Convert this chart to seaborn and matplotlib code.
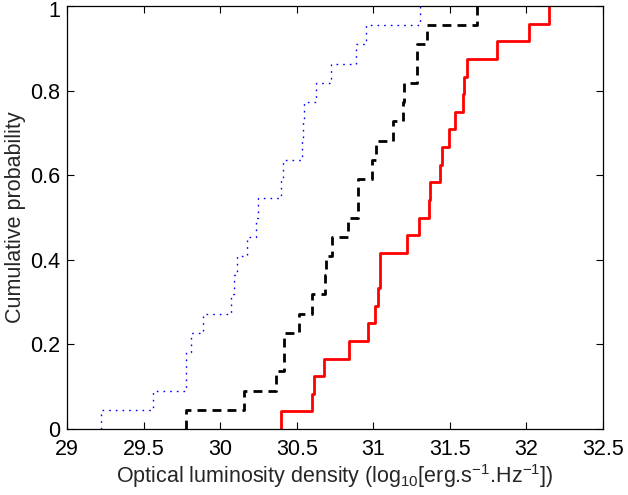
import numpy as np
import pandas as pd
import matplotlib
matplotlib.use("Agg")
import matplotlib.pyplot as plt
import matplotlib.transforms as mtransforms
import seaborn as sns

# Sample values (log10 optical luminosity density)
blue_values = [29.22, 29.564, 29.775, 29.78, 29.81, 29.886, 30.071, 30.093, 30.11,
               30.177, 30.232, 30.249, 30.40, 30.41, 30.537, 30.54, 30.545, 30.625,
               30.724, 30.89, 30.95, 31.305]
black_values = [29.78, 30.158, 30.363, 30.419, 30.42, 30.515, 30.598, 30.685, 30.69,
                30.728, 30.837, 30.90, 30.902, 30.994, 31.016, 31.127, 31.197, 31.198,
                31.284, 31.286, 31.349, 31.68]
red_values = [30.40, 30.60, 30.61, 30.675, 30.84, 30.963, 31.013, 31.033, 31.042,
              31.045, 31.218, 31.30, 31.366, 31.368, 31.436, 31.45, 31.497, 31.534,
              31.585, 31.59, 31.614, 31.806, 32.017, 32.15]

x_ticks = [29, 29.5, 30, 30.5, 31, 31.5, 32, 32.5]
x_tick_labels = ["29", "29.5", "30", "30.5", "31", "31.5", "32", "32.5"]
y_ticks = [0, 0.2, 0.4, 0.6, 0.8, 1]
y_tick_labels = ["0", "0.2", "0.4", "0.6", "0.8", "1"]

sns.set_theme(style="white")
plt.rcParams["font.family"] = ["Liberation Sans", "DejaVu Sans"]
plt.rcParams["mathtext.fontset"] = "custom"
plt.rcParams["mathtext.rm"] = "Liberation Sans"
plt.rcParams["mathtext.it"] = "Liberation Sans:italic"
plt.rcParams["mathtext.bf"] = "Liberation Sans:bold"

fig = plt.figure(figsize=(6.28, 4.95), dpi=100)
ax = fig.add_axes([67 / 628, 1 - 429 / 495, (603 - 67) / 628, (429 - 6) / 495])

styles = [
    (blue_values, dict(color=(0, 0, 1), linestyle=(0, (1.2, 3.6)), linewidth=1.0)),
    (black_values, dict(color="black", linestyle=(0, (3.2, 2.2)), linewidth=2.0)),
    (red_values, dict(color=(1, 0, 0), linestyle="-", linewidth=2.0)),
]
for vals, kw in styles:
    sns.ecdfplot(x=np.array(vals), ax=ax, **kw)

# Start each step curve at its first sample (instead of -inf) so it rises from 0
for line in ax.lines:
    xd, yd = line.get_data()
    xd = np.array(xd, dtype=float)
    yd = np.array(yd, dtype=float)
    xd[0] = xd[1]
    line.set_data(xd, yd)

ax.set_xlim(29, 32.5)
ax.set_ylim(0, 1)
ax.set_xticks(x_ticks)
ax.set_xticklabels(x_tick_labels)
ax.set_yticks(y_ticks)
ax.set_yticklabels(y_tick_labels)

ax.tick_params(axis="both", which="both", direction="in", length=5, width=0.8,
               colors="black", labelsize=15.5, top=True, right=True,
               bottom=True, left=True)
ax.tick_params(axis="x", pad=7)
ax.tick_params(axis="y", pad=5)
for sp in ax.spines.values():
    sp.set_visible(True)
    sp.set_color("black")
    sp.set_linewidth(0.9)
    sp.set_zorder(3)

# nudge the top "1" label slightly down so it stays inside the canvas
top_lbl = ax.get_yticklabels()[-1]
top_lbl.set_transform(top_lbl.get_transform() +
                      mtransforms.ScaledTranslation(0, -2 / 72, fig.dpi_scale_trans))

ax.set_xlabel(r"Optical luminosity density (log$_{\mathregular{10}}$[erg.s$^{\mathregular{-1}}$.Hz$^{\mathregular{-1}}$])",
              fontsize=15.5, labelpad=2)
ax.set_ylabel("Cumulative probability", fontsize=15.5, labelpad=3)
ax.grid(False)
ax.set_facecolor("white")
fig.patch.set_facecolor("white")

fig.savefig("out.png", dpi=100)
